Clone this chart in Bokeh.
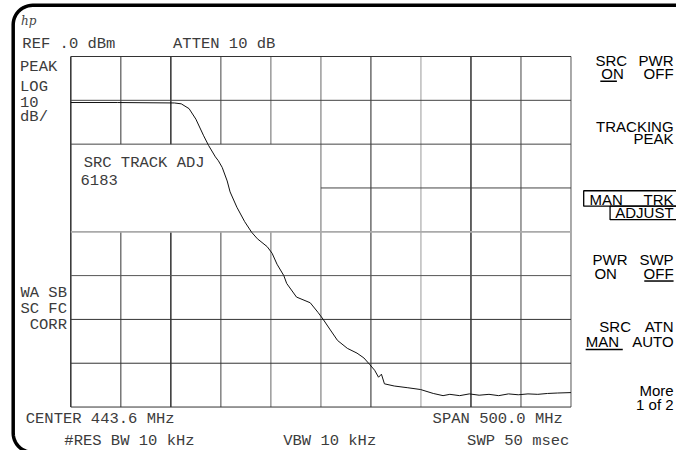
import numpy as np
from bokeh.plotting import figure
from bokeh.models import Range1d, Label
from bokeh.embed import file_html
from bokeh.resources import INLINE

# ---------------- instrument settings / data ----------------
CENTER_MHZ = 443.6
SPAN_MHZ = 500.0
REF_DBM = 0.0
DB_PER_DIV = 10.0
N_XDIV = 10
N_YDIV = 8

FREQ_MHZ = [193.6, 240.0, 297.1, 304.0, 311.8, 318.6, 326.4, 331.3, 338.1, 341.1,
            344.9, 349.9, 352.8, 359.6, 367.4, 374.3, 380.1, 389.9, 394.8, 399.7,
            406.5, 409.4, 419.2, 432.9, 440.7, 445.6, 452.4, 460.2, 470.0, 479.7,
            486.6, 492.4, 497.3, 501.2, 504.1, 507.1, 516.9, 530.5, 543.2, 555.9,
            565.7, 572.5, 582.3, 592.0, 601.8, 611.6, 621.3, 631.1, 640.9, 650.6,
            660.4, 670.2, 679.9, 693.6]
LEVEL_DBM = [-10.5, -10.5, -10.6, -10.8, -11.9, -14.3, -18.1, -20.3, -22.9, -23.8,
             -25.3, -28.4, -30.9, -34.4, -37.7, -40.1, -41.6, -43.4, -44.9, -47.4,
             -50.0, -51.8, -54.9, -56.2, -58.4, -59.9, -62.2, -64.8, -66.6, -67.7,
             -68.8, -70.3, -71.6, -73.2, -72.5, -74.7, -75.2, -75.6, -76.0, -76.9,
             -77.4, -77.1, -77.4, -77.0, -77.3, -77.1, -77.4, -77.0, -77.2, -77.0,
             -77.1, -76.9, -76.8, -76.7]

HEADER_LEFT = ["REF .0 dBm", "ATTEN 10 dB"]
SIDE_LABELS = ["PEAK", "LOG", "10", "dB/"]
CORR_LABELS = ["WA SB", "SC FC", "CORR"]
BOX_TEXT = ["SRC TRACK ADJ", "6183"]
FOOTER = ["CENTER 443.6 MHz", "SPAN 500.0 MHz", "#RES BW 10 kHz", "VBW 10 kHz", "SWP 50 msec"]

# ---------------- layout (reference screen pixels) ----------------
W_REF, H_REF = 692, 466
GX0, GX1 = 72, 584      # graticule left/right
GY0, GY1 = 58, 421      # graticule top/bottom
FIG_W, FIG_H = 676, 450

f_start = CENTER_MHZ - SPAN_MHZ / 2
f_div = SPAN_MHZ / N_XDIV
f_per_px = SPAN_MHZ / (GX1 - GX0)
db_bottom = REF_DBM - DB_PER_DIV * N_YDIV
db_per_px = DB_PER_DIV * N_YDIV / (GY1 - GY0)

p = figure(width=FIG_W, height=FIG_H, x_range=Range1d(0, W_REF), y_range=Range1d(H_REF, 0),
           x_axis_type=None, y_axis_type=None, toolbar_location=None, output_backend="svg",
           min_border=0, outline_line_color=None, background_fill_color="white",
           border_fill_color="white", title=None)
p.extra_x_ranges = {"freq": Range1d(f_start - GX0 * f_per_px, f_start + (W_REF - GX0) * f_per_px)}
p.extra_y_ranges = {"dbm": Range1d(db_bottom - (H_REF - GY1) * db_per_px, REF_DBM + GY0 * db_per_px)}

# ---------------- graticule ----------------
VCOL = ["#111111", "#333333", "#111111", "#444444", "#666666", "#8a8a8a",
        "#222222", "#9a9a9a", "#111111", "#444444", "#555555"]
HCOL = ["#333333", "#444444", "#444444", "#444444", "#aaaaaa", "#555555",
        "#333333", "#333333", "#333333"]
BOX_XDIV = (0, 5)
BOX_YDIV = (2, 4)
x0s, y0s, x1s, y1s, cols, wids = [], [], [], [], [], []
for k in range(N_XDIV + 1):
    f = f_start + k * f_div
    if BOX_XDIV[0] < k < BOX_XDIV[1]:
        spans = [(REF_DBM, REF_DBM - BOX_YDIV[0] * DB_PER_DIV),
                 (REF_DBM - BOX_YDIV[1] * DB_PER_DIV, db_bottom)]
    else:
        spans = [(REF_DBM, db_bottom)]
    for a, b in spans:
        x0s.append(f); x1s.append(f); y0s.append(a); y1s.append(b)
        cols.append(VCOL[k]); wids.append(1.3 if VCOL[k] in ("#111111", "#8a8a8a") else 1.0)
for j in range(N_YDIV + 1):
    d = REF_DBM - j * DB_PER_DIV
    if BOX_YDIV[0] < j < BOX_YDIV[1]:
        a = f_start + BOX_XDIV[1] * f_div
    else:
        a = f_start
    x0s.append(a); x1s.append(f_start + SPAN_MHZ); y0s.append(d); y1s.append(d)
    cols.append(HCOL[j]); wids.append(1.8 if HCOL[j] == "#aaaaaa" else 1.0)
p.segment(x0=x0s, y0=y0s, x1=x1s, y1=y1s, line_color=cols, line_width=wids,
          x_range_name="freq", y_range_name="dbm")

# ---------------- trace ----------------
p.line(FREQ_MHZ, LEVEL_DBM, line_color="#111111", line_width=1.0,
       x_range_name="freq", y_range_name="dbm")

# ---------------- frame border (rounded left corners) ----------------
r = 20
a1 = np.linspace(1.5 * np.pi, np.pi, 14)
a2 = np.linspace(np.pi, 0.5 * np.pi, 14)
bx = [700] + list(33 + r * np.cos(a1)) + list(33 + r * np.cos(a2)) + [700]
by = [5] + list(25 + r * np.sin(a1)) + list(448 + r * np.sin(a2)) + [468]
p.line(bx, by, line_color="black", line_width=3.5)

# ---------------- texts ----------------
MONO = "Liberation Mono"
SANS = "Liberation Sans"
MS = "15.5px"
SS = "15px"
MCOL = "#3c3c3c"


def lab(x, y, t, font=MONO, size=MS, color=MCOL, align="center", style="normal"):
    p.add_layout(Label(x=x, y=y, text=t, text_font=font, text_font_size=size,
                       text_color=color, text_align=align, text_baseline="middle",
                       text_font_style=style))


lab(21, 21, "hp", font="DejaVu Serif", size="12px", color="#444444", align="left", style="italic")
lab(70, 45, HEADER_LEFT[0])
lab(229, 45, HEADER_LEFT[1])
for t, y in zip(SIDE_LABELS, [69, 90, 105, 121]):
    lab(20, y, t, align="left")
for t, y in zip(CORR_LABELS, [303, 319, 336]):
    lab(68, y, t, align="right")
lab(147, 168, BOX_TEXT[0])
lab(101, 186, BOX_TEXT[1])
lab(102, 433, FOOTER[0])
lab(509, 433, FOOTER[1])
lab(132, 456, FOOTER[2])
lab(337, 456, FOOTER[3])
lab(530, 456, FOOTER[4])

# softkeys
R = 689
K = dict(font=SANS, size=SS, color="black")
lab(609, 62, "SRC", align="left", **K)
lab(R, 62, "PWR", align="right", **K)
lab(615, 76, "ON", align="left", **K)
lab(R, 76, "OFF", align="right", **K)
lab(R, 130, "TRACKING", align="right", **K)
lab(R, 143, "PEAK", align="right", **K)
lab(603, 206, "MAN", align="left", **K)
lab(R, 206, "TRK", align="right", **K)
lab(R, 220, "ADJUST", align="right", **K)
lab(606, 268, "PWR", align="left", **K)
lab(R, 268, "SWP", align="right", **K)
lab(608, 283, "ON", align="left", **K)
lab(R, 283, "OFF", align="right", **K)
lab(613, 338, "SRC", align="left", **K)
lab(R, 338, "ATN", align="right", **K)
lab(599, 353, "MAN", align="left", **K)
lab(R, 353, "AUTO", align="right", **K)
lab(R, 404, "More", align="right", **K)
lab(R, 418, "1 of 2", align="right", **K)

# underlines and boxes
p.segment(x0=[614, 659, 599], y0=[83.5, 290.5, 361.5], x1=[631, 689, 637], y1=[83.5, 290.5, 361.5],
          line_color="black", line_width=1.5)
p.quad(left=[597, 624], right=[700, 700], top=[197, 213], bottom=[213, 227],
       fill_color=None, line_color="black", line_width=1.3)

open("out.html", "w").write(file_html(p, INLINE))
